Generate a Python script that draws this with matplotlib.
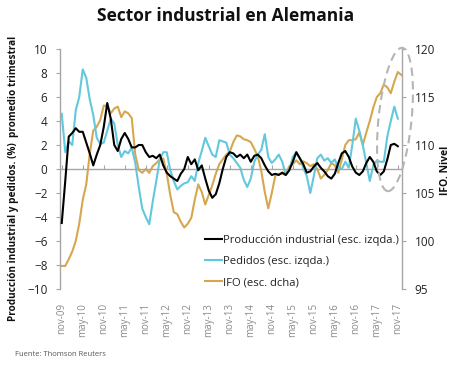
import matplotlib
matplotlib.use("Agg")
import matplotlib.pyplot as plt
import matplotlib.transforms as mtransforms
from matplotlib.patches import Ellipse
import numpy as np

plt.rcParams['font.family'] = ['Open Sans', 'DejaVu Sans']

tick_labels = ["nov-09", "may-10", "nov-10", "may-11", "nov-11", "may-12", "nov-12",
               "may-13", "nov-13", "may-14", "nov-14", "may-15", "nov-15", "may-16",
               "nov-16", "may-17", "nov-17"]

produccion = [-4.5, -1.0, 2.7, 3.0, 3.4, 3.1, 3.1, 2.2, 1.3, 0.3,
              1.2, 2.0, 3.5, 5.5, 4.2, 2.0, 1.5, 2.5, 3.0, 2.5,
              1.8, 1.8, 2.0, 2.0, 1.4, 1.0, 1.1, 0.9, 1.2, 0.3,
              -0.3, -0.6, -0.8, -1.0, -0.4, 0.0, 1.0, 0.4, 0.8, -0.1,
              0.3, -0.8, -1.8, -2.4, -2.1, -1.2, 0.0, 1.0, 1.4, 1.3,
              1.0, 1.2, 0.9, 1.2, 0.6, 1.1, 1.2, 0.9, 0.3, -0.2,
              -0.5, -0.4, -0.5, -0.3, -0.5, -0.1, 0.6, 1.4, 0.9, 0.4,
              -0.3, -0.2, 0.2, 0.5, 0.1, -0.2, -0.6, -0.8, -0.4, 0.5,
              1.3, 1.5, 1.0, 0.2, -0.3, -0.5, -0.2, 0.5, 1.0, 0.6,
              -0.2, -0.5, -0.2, 0.8, 2.0, 2.1, 1.9]

pedidos = [4.6, 1.4, 2.3, 2.0, 4.9, 6.0, 8.3, 7.6, 5.8, 4.5,
           2.6, 2.1, 2.2, 3.2, 4.2, 3.8, 2.0, 1.0, 1.5, 1.3,
           1.8, 0.5, -1.5, -3.3, -4.0, -4.6, -2.7, -1.0, 0.8, 1.4,
           1.4, -0.1, -1.0, -1.7, -1.4, -1.2, -1.1, -0.6, -1.0, 0.5,
           1.5, 2.6, 1.9, 1.2, 1.0, 2.4, 2.3, 2.2, 1.2, 0.9,
           0.5, 0.1, -0.9, -1.5, -0.8, 0.6, 1.2, 1.6, 2.9, 1.0,
           0.5, 0.8, 1.2, 0.6, -0.5, -0.1, 1.0, 1.4, 0.9, 0.1,
           -0.6, -2.0, -0.6, 0.9, 1.2, 0.7, 0.9, 0.5, 0.8, 0.1,
           0.0, 0.6, 0.1, 2.0, 4.2, 3.2, 2.0, 0.5, -1.0, 0.3,
           0.7, 0.6, 0.6, 2.7, 4.0, 5.2, 4.2]

ifo = [97.4, 97.4, 98.1, 98.9, 100.0, 101.8, 104.3, 105.9, 109.1, 111.5,
       111.9, 112.6, 114.1, 114.1, 113.3, 113.8, 114.0, 112.9, 113.5, 113.3,
       112.8, 109.0, 107.4, 107.1, 107.5, 107.1, 107.8, 108.1, 108.5, 108.6,
       107.0, 104.8, 103.0, 102.8, 102.0, 101.4, 101.8, 102.4, 104.3, 105.9,
       105.1, 103.8, 104.8, 105.8, 107.0, 108.0, 108.5, 109.0, 109.3, 110.3,
       111.0, 110.9, 110.6, 110.5, 110.3, 109.6, 108.8, 107.3, 105.1, 103.4,
       105.0, 106.8, 107.0, 107.0, 106.9, 107.8, 108.0, 108.4, 108.0, 108.3,
       108.1, 107.8, 108.0, 107.5, 106.5, 106.9, 107.4, 108.1, 107.9, 107.1,
       108.5, 110.0, 110.5, 110.5, 110.6, 111.3, 110.0, 111.3, 112.5, 113.9,
       115.0, 115.4, 116.3, 116.0, 115.4, 116.6, 117.6, 117.3]

W, H = 452, 371
fig = plt.figure(figsize=(W / 100, H / 100), dpi=100)
ax = fig.add_axes([60 / W, 1 - 289 / H, (402 - 60) / W, (289 - 49) / H])
ax2 = ax.twinx()

c_black = "#000000"
c_cyan = "#62C8DD"
c_gold = "#D6A74E"
gray = "#A6A6A6"

x_p = np.arange(len(produccion))
x_o = np.arange(len(pedidos))
x_i = np.arange(len(ifo))

l3, = ax2.plot(x_i, ifo, color=c_gold, lw=1.5, zorder=1)
l2, = ax.plot(x_o, pedidos, color=c_cyan, lw=1.5, zorder=2)
l1, = ax.plot(x_p, produccion, color=c_black, lw=1.5, zorder=3)
ax.set_zorder(ax2.get_zorder() + 1)
ax.patch.set_visible(False)

ax.set_xlim(-0.5, 97.2)
ax.set_ylim(-10, 10)
ax2.set_ylim(95, 120)
ax.set_yticks(np.arange(-10, 11, 2))
ax2.set_yticks(np.arange(95, 121, 5))

tick_pos = np.arange(0, 97, 6)
ax.set_xticks(tick_pos)
ax.set_xticklabels(tick_labels)

for a in (ax, ax2):
    a.spines['bottom'].set_visible(False)
    for s in ('left', 'right', 'top'):
        a.spines[s].set_color(gray)
        a.spines[s].set_linewidth(1.0)
ax.spines['right'].set_visible(False)
ax2.spines['left'].set_visible(False)
ax2.spines['top'].set_visible(False)
ax.spines['top'].set_position(('data', 0))

ax.tick_params(axis='x', bottom=False, top=True, labelbottom=True, labeltop=False,
               length=3, color=gray, pad=7, labelrotation=90, labelsize=7,
               labelcolor="#8A8A8A")
ax.tick_params(axis='y', length=3, color=gray, labelsize=8.5, labelcolor="#222222", pad=6)
ax2.tick_params(axis='y', length=3, color=gray, labelsize=8.5, labelcolor="#222222", pad=6)
ax2.tick_params(axis='x', bottom=False, top=False, labelbottom=False)

leg = ax.legend([l1, l2, l3],
                ["Producción industrial (esc. izqda.)", "Pedidos (esc. izqda.)", "IFO (esc. dcha)"],
                loc="lower right", bbox_to_anchor=(1.01, -0.025), frameon=False,
                fontsize=8.1, handlelength=1.5, handletextpad=0.1,
                labelspacing=0.9, borderaxespad=0.2)
for t in leg.get_texts():
    t.set_color("#222222")

fig.text(226 / W, 1 - 16 / H, "Sector industrial en Alemania", ha="center", va="center",
         fontsize=12.5, fontweight="bold", color="#111111")
fig.text(14 / W, 1 - 178 / H, "Producción industrial y pedidos. (%)  promedio trimestral",
         rotation=90, ha="center", va="center", fontsize=7.2, fontweight="bold",
         color="#111111")
fig.text(446 / W, 1 - 170 / H, "IFO. Nivel", rotation=90, ha="center", va="center",
         fontsize=7.5, fontweight="bold", color="#111111")
fig.text(15 / W, 1 - 354 / H, "Fuente: Thomson Reuters", ha="left", va="center",
         fontsize=5.5, color="#555555")

# dashed ellipse highlighting the latest months (pixel-based placement)
px = mtransforms.Affine2D().scale(1 / W, 1 / H) + fig.transFigure
ell = Ellipse((395, H - 119.5), width=33, height=144, angle=-5.8,
              fill=False, edgecolor="#B5B5B5", lw=1.5, ls=(0, (4, 2.5)),
              transform=px, clip_on=False, zorder=10)
fig.patches.append(ell)

fig.savefig("out.png", dpi=100)
